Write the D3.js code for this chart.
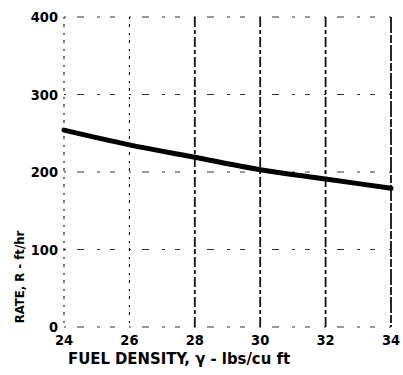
<!DOCTYPE html>
<html><head><meta charset="utf-8">
<script src="https://cdn.jsdelivr.net/npm/d3@7"></script>
<style>
html,body{margin:0;padding:0;background:#fff;}
svg{display:block;}
text{font-family:"DejaVu Sans Condensed","DejaVu Sans",sans-serif;font-weight:bold;fill:#000;}
</style></head>
<body>
<svg id="c" width="403" height="375"></svg>
<script>
const xTicks = [24, 26, 28, 30, 32, 34];
const yTicks = [0, 100, 200, 300, 400];
const density = [24, 26, 28, 30, 32, 34];
const rate = [254, 235, 219, 203, 191, 179];
const xTitle = "FUEL DENSITY, \u03B3 - lbs/cu ft";
const yTitle = "RATE, R - ft/hr";

const svg = d3.select("#c");
const x = d3.scaleLinear().domain([24, 34]).range([64, 391]);
const y = d3.scaleLinear().domain([0, 400]).range([327, 17]);

// horizontal grid (sparse, broken)
svg.append("g").selectAll("line").data(yTicks).join("line")
  .attr("x1", x(24)).attr("x2", x(34))
  .attr("y1", d => y(d)).attr("y2", d => y(d))
  .attr("stroke", "#333").attr("stroke-width", 1.1)
  .attr("stroke-dasharray", "2 11 7 13 3 10 5 14");

// vertical grid
svg.append("g").selectAll("line").data(xTicks).join("line")
  .attr("x1", d => x(d)).attr("x2", d => x(d))
  .attr("y1", y(400)).attr("y2", y(0))
  .attr("stroke", "#111")
  .attr("stroke-width", d => d <= 26 ? 1.1 : 1.8)
  .attr("stroke-dasharray", d => d <= 26 ? "2 5 3 6" : (d === 34 ? "16 2 8 2" : "10 3 4 3"));

// x tick labels
svg.append("g").selectAll("text").data(xTicks).join("text")
  .attr("x", d => x(d)).attr("y", 345)
  .attr("text-anchor", "middle").attr("font-size", 14.5)
  .text(d => d);

// y tick labels
svg.append("g").selectAll("text").data(yTicks).join("text")
  .attr("x", 58).attr("y", d => y(d) + 5)
  .attr("text-anchor", "end").attr("font-size", 14.5)
  .text(d => d);

// titles
svg.append("text").attr("x", 68).attr("y", 364)
  .attr("font-size", 15).attr("textLength", 222).attr("lengthAdjust", "spacingAndGlyphs")
  .text(xTitle);
svg.append("text")
  .attr("transform", "translate(24,277) rotate(-90)")
  .attr("text-anchor", "middle").attr("font-size", 13)
  .text(yTitle);

// curve
const line = d3.line().x((d, i) => x(density[i])).y(d => y(d)).curve(d3.curveMonotoneX);
svg.append("path").datum(rate)
  .attr("d", line).attr("fill", "none")
  .attr("stroke", "#000").attr("stroke-width", 5).attr("stroke-linecap", "round");
</script>
</body></html>
